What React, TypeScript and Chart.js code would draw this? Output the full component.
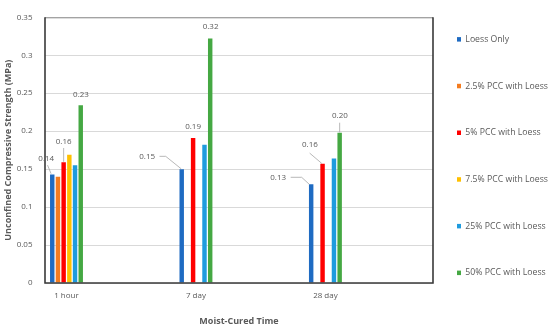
import React, { useEffect, useRef } from 'react';
import { Chart, registerables } from 'chart.js';

Chart.register(...registerables);

// ---- data ----
const categories = ['1 hour', '7 day', '28 day'];
const seriesNames = [
  'Loess Only',
  '2.5% PCC with Loess',
  '5% PCC with Loess',
  '7.5% PCC with Loess',
  '25% PCC with Loess',
  '50% PCC with Loess',
];
const loessOnly = [0.143, 0.15, 0.13];
const pcc2_5 = [0.14, null, null];
const pcc5 = [0.159, 0.191, 0.157];
const pcc7_5 = [0.169, null, null];
const pcc25 = [0.155, 0.182, 0.164];
const pcc50 = [0.234, 0.322, 0.198];
const yTicks = [0, 0.05, 0.1, 0.15, 0.2, 0.25, 0.3, 0.35];
// bars that carry a value label: [series index, category index]
const labelledBars = [
  [0, 0], [2, 0], [5, 0],
  [0, 1], [2, 1], [5, 1],
  [0, 2], [2, 2], [5, 2],
];

// ---- styles ----
const seriesColors = ['#1F6BC2', '#F47C20', '#FF0000', '#FFC000', '#1F9BDE', '#45A843'];
const textColor = '#595959';
const FONT = "'Open Sans', sans-serif";
// label placement relative to bar top-centre (dx, dy) and leader polyline
const labelPlacement: { dx: number; dy: number; leader?: number[][] }[] = [
  { dx: -6, dy: -15.3, leader: [[-4.7, -9.3], [-1.2, -0.8]] },
  { dx: 0, dy: -20.6, leader: [[0, -14.3], [0, -0.5]] },
  { dx: 0.3, dy: -10.4 },
  { dx: -34.5, dy: -12.6, leader: [[-22.2, -12.8], [-16, -12.8], [-0.5, -0.3]] },
  { dx: 0, dy: -11 },
  { dx: 0.4, dy: -11.7 },
  { dx: -33, dy: -6.7, leader: [[-20.5, -7], [-9.5, -7], [-1.9, 0]] },
  { dx: -12.7, dy: -19, leader: [[-12.9, -10.7], [-0.7, -0.3]] },
  { dx: 0.3, dy: -17.3, leader: [[0, -10], [0, -0.3]] },
];

const seriesValues = [loessOnly, pcc2_5, pcc5, pcc7_5, pcc25, pcc50];

const overlayPlugin = {
  id: 'overlay',
  afterDatasetsDraw(chart: any) {
    const { ctx, chartArea: a } = chart;
    ctx.save();
    // top border
    ctx.strokeStyle = '#8c8c8c';
    ctx.lineWidth = 1;
    ctx.beginPath();
    ctx.moveTo(a.left, a.top + 0.5);
    ctx.lineTo(a.right, a.top + 0.5);
    ctx.stroke();
    // left, bottom, right
    ctx.strokeStyle = '#3a3a3a';
    ctx.lineWidth = 1.6;
    ctx.beginPath();
    ctx.moveTo(a.left, a.top);
    ctx.lineTo(a.left, a.bottom);
    ctx.lineTo(a.right, a.bottom);
    ctx.lineTo(a.right, a.top);
    ctx.stroke();

    // value labels
    ctx.font = `8px ${FONT}`;
    ctx.fillStyle = textColor;
    ctx.textAlign = 'center';
    ctx.textBaseline = 'middle';
    labelledBars.forEach(([s, c], i) => {
      const el: any = chart.getDatasetMeta(s).data[c];
      const v = seriesValues[s][c];
      if (!el || v == null) return;
      const { x, y } = el.getProps(['x', 'y'], true);
      const p = labelPlacement[i];
      if (p.leader) {
        ctx.strokeStyle = '#a6a6a6';
        ctx.lineWidth = 0.8;
        ctx.beginPath();
        p.leader.forEach(([lx, ly], k) => {
          if (k === 0) ctx.moveTo(x + lx, y + ly);
          else ctx.lineTo(x + lx, y + ly);
        });
        ctx.stroke();
      }
      ctx.fillText((v as number).toFixed(2), x + p.dx, y + p.dy);
    });
    ctx.restore();
  },
};

export default function App() {
  const ref = useRef<HTMLCanvasElement>(null);
  useEffect(() => {
    if (!ref.current) return;
    const chart = new Chart(ref.current, {
      type: 'bar',
      data: {
        datasets: seriesValues.map((vals, s) => ({
          label: seriesNames[s],
          data: vals.map((v, i) => ({ x: i, y: v })),
          backgroundColor: seriesColors[s],
          borderWidth: 0,
          categoryPercentage: 0.264,
          barPercentage: 0.78,
        })),
      },
      options: {
        responsive: false,
        animation: false,
        devicePixelRatio: 1,
        layout: { padding: { top: 7, left: 0, right: 0, bottom: 0 } },
        plugins: {
          tooltip: { enabled: false },
          legend: {
            position: 'right',
            align: 'start',
            maxWidth: 117,
            title: { display: true, text: '', font: { size: 4, lineHeight: '4px' }, padding: 0 },
            labels: {
              boxWidth: 4,
              boxHeight: 4.5,
              padding: 24,
              color: textColor,
              font: { family: FONT, size: 8.7, lineHeight: '22.7px' },
              generateLabels: (c: any) =>
                (Chart.defaults.plugins.legend.labels as any)
                  .generateLabels(c)
                  .map((l: any) => ({ ...l, text: [l.text], lineWidth: 0 })),
            },
          },
        },
        scales: {
          x: {
            type: 'linear',
            offset: false,
            bounds: 'ticks',
            min: -0.166,
            max: 2.831,
            afterBuildTicks: (s: any) => {
              s.ticks = categories.map((_, i) => ({ value: i }));
            },
            afterFit: (s: any) => {
              s.height = 46;
            },
            ticks: {
              autoSkip: false,
              maxRotation: 0,
              padding: 8,
              color: textColor,
              font: { family: FONT, size: 8 },
              callback: (v: any) => categories[v] ?? '',
            },
            grid: { display: false, drawTicks: false, offset: false },
            border: { display: false },
            title: {
              display: true,
              text: 'Moist-Cured Time',
              color: textColor,
              font: { family: FONT, size: 9, weight: 'bold' },
              padding: { top: 0, bottom: 2 },
            },
          },
          y: {
            min: 0,
            max: 0.35,
            afterBuildTicks: (s: any) => {
              s.ticks = yTicks.map((v) => ({ value: v }));
            },
            afterFit: (s: any) => {
              s.width = 45;
            },
            ticks: {
              padding: 12.5,
              color: textColor,
              font: { family: FONT, size: 8 },
              callback: (v: any) => String(Number(Number(v).toFixed(2))),
            },
            grid: { color: '#d9d9d9', lineWidth: 1, drawTicks: false },
            border: { display: false },
            title: {
              display: true,
              text: 'Unconfined Compressive Strength (MPa)',
              color: textColor,
              font: { family: FONT, size: 9, weight: 'bold' },
              padding: { top: 3, bottom: 0 },
            },
          },
        },
      } as any,
      plugins: [overlayPlugin],
    });
    return () => chart.destroy();
  }, []);
  return (
    <div style={{ position: 'absolute', left: 0, top: 0, width: 550, height: 329, background: '#fff' }}>
      <canvas ref={ref} width={550} height={329} />
    </div>
  );
}
